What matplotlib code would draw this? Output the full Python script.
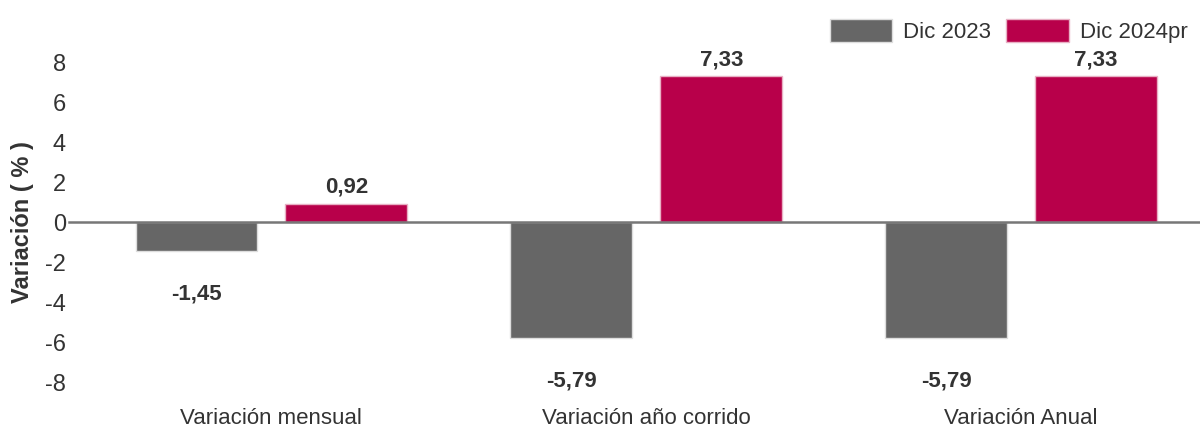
import numpy as np
import matplotlib
matplotlib.use("Agg")
from matplotlib import pyplot as plt

# data
categorias = ["Variación mensual", "Variación año corrido", "Variación Anual"]
dic_2023 = [-1.45, -5.79, -5.79]
dic_2024 = [0.92, 7.33, 7.33]
etiquetas_2023 = ["-1,45", "-5,79", "-5,79"]
etiquetas_2024 = ["0,92", "7,33", "7,33"]
series = ["Dic 2023", "Dic 2024pr"]

GRIS = "#666666"
ROJO = "#b8004a"
TEXTO = "#333333"

plt.rcParams['font.family'] = ['Liberation Sans', 'DejaVu Sans']
plt.rcParams['axes.unicode_minus'] = False

fig = plt.figure(figsize=(12, 4.3), dpi=100)
ax = fig.add_axes([0.07, 0.1116, 0.93, 0.742])

x = np.arange(len(categorias))
ancho = 0.325
b1 = ax.bar(x - 0.2, dic_2023, ancho, color=GRIS, edgecolor="#dddddd", linewidth=1, label=series[0], zorder=2)
b2 = ax.bar(x + 0.2, dic_2024, ancho, color=ROJO, edgecolor="#e8b0c4", linewidth=1, label=series[1], zorder=2)

# etiquetas de valor
for xi, v, t in zip(x, dic_2023, etiquetas_2023):
    ax.annotate(t, (xi - 0.2, v), xytext=(0, -31), textcoords="offset points",
                ha="center", va="center", fontsize=16, fontweight="bold", color=TEXTO)
for xi, v, t in zip(x, dic_2024, etiquetas_2024):
    ax.annotate(t, (xi + 0.2, v), xytext=(0, 12), textcoords="offset points",
                ha="center", va="center", fontsize=16, fontweight="bold", color=TEXTO)

ax.axhline(0, xmin=-0.013, xmax=1, color="#777777", linewidth=1.8, clip_on=False, zorder=3)

ax.set_xlim(-0.5, 2.477)
ax.set_ylim(-8, 8)
ax.set_yticks(range(-8, 9, 2))
ax.set_xticks(x)
ax.set_xticklabels(categorias)
ax.tick_params(axis="y", length=0, pad=13, labelsize=17, labelcolor=TEXTO)
ax.tick_params(axis="x", length=0, pad=19, labelsize=16, labelcolor=TEXTO)
for s in ax.spines.values():
    s.set_visible(False)

ax.set_ylabel("Variación ( % )", fontsize=17, fontweight="bold", color=TEXTO)
ax.yaxis.set_label_coords(-0.045, 0.5)

fig.legend(handles=[b1, b2], loc="center right", bbox_to_anchor=(0.997, 0.928), ncol=2,
           frameon=False, fontsize=16, handlelength=2.8, handleheight=1.2,
           handletextpad=0.5, columnspacing=0.7, borderaxespad=0, labelcolor=TEXTO)

fig.savefig("out.png", dpi=100)
